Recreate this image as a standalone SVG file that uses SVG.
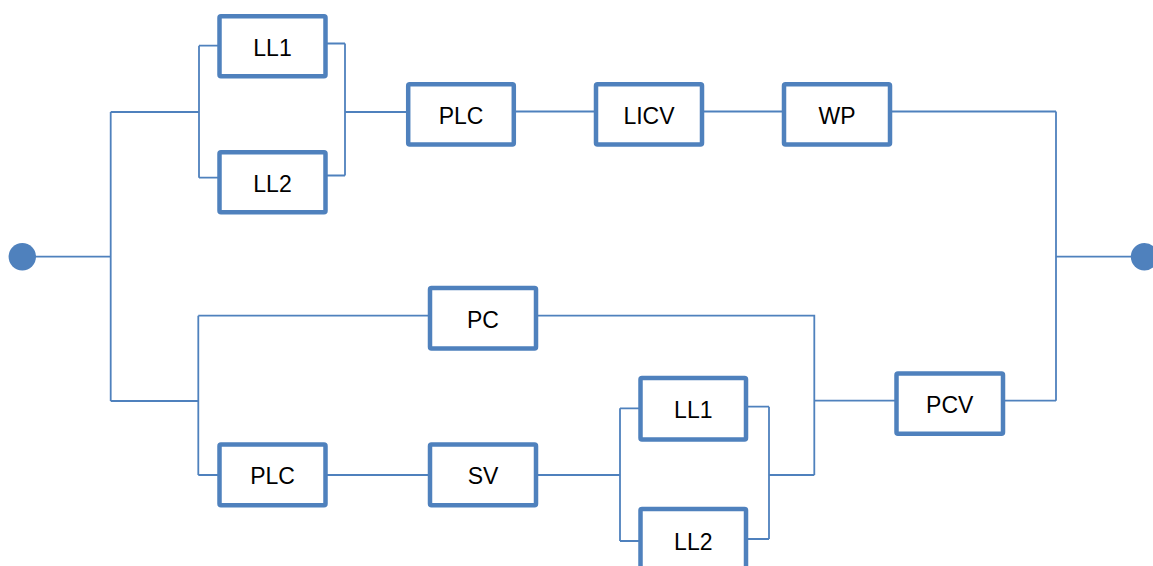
<svg xmlns="http://www.w3.org/2000/svg" width="1153" height="566" viewBox="0 0 1153 566">
<style>
.box{fill:#fff;stroke:#4F81BD;stroke-width:4.5;}
.lbl{font-family:"Liberation Sans",Arial,sans-serif;font-size:23px;fill:#000;text-anchor:middle;}
.wire{fill:none;stroke:#4F81BD;stroke-width:1.8;}
.term{fill:#4F81BD;}
</style>
<rect width="1153" height="566" fill="#fff"/>
<g id="connectors">
<path class="wire" d="M22.3 256.7H110.7M110.7 112V401M110.7 112H199M199 45.7V177.7M199 45.7H219.5M199 177.7H219.5"/>
<path class="wire" d="M325.5 43.5H345M325.5 175.5H345M345 43.5V175.5M345 112H408"/>
<path class="wire" d="M514 111.5H596M702 111.5H784M890 111.5H1056M1056 111.5V400.7M1056 256.7H1144"/>
<path class="wire" d="M110.7 401H198.3M198.3 315.7V475M198.3 315.7H430M198.3 475H219.5M325.5 475H430M536 475H620"/>
<path class="wire" d="M620 408.3V541M620 408.3H640.5M620 541H640.5M746 406.7H769M746 539H769M769 406.7V539M769 475H814.3"/>
<path class="wire" d="M536 315.7H814.3V475M814.3 400.7H896.5M1003 400.7H1056"/>
</g>
<g id="start"><circle class="term" cx="22.3" cy="256.7" r="13.7"/></g>
<g id="end"><circle class="term" cx="1144.5" cy="256.7" r="13.7"/></g>
<g id="ll1-top"><rect class="box" x="219.5" y="16.3" width="106" height="60" rx="1.5"/><text class="lbl" x="272.5" y="55.5">LL1</text></g>
<g id="ll2-top"><rect class="box" x="219.5" y="152.3" width="106" height="60" rx="1.5"/><text class="lbl" x="272.5" y="191.5">LL2</text></g>
<g id="plc-top"><rect class="box" x="408.2" y="84.2" width="105.6" height="60.3" rx="1.5"/><text class="lbl" x="461" y="123.5">PLC</text></g>
<g id="licv"><rect class="box" x="596" y="84.2" width="106" height="60.3" rx="1.5"/><text class="lbl" x="649" y="123.5">LICV</text></g>
<g id="wp"><rect class="box" x="784" y="84.2" width="106" height="60.3" rx="1.5"/><text class="lbl" x="837" y="123.5">WP</text></g>
<g id="pc"><rect class="box" x="430" y="288" width="106" height="60.5" rx="1.5"/><text class="lbl" x="483" y="327.5">PC</text></g>
<g id="pcv"><rect class="box" x="896.5" y="373.5" width="106.5" height="60.3" rx="1.5"/><text class="lbl" x="949.7" y="413">PCV</text></g>
<g id="plc-bottom"><rect class="box" x="219.5" y="444.5" width="106" height="60.8" rx="1.5"/><text class="lbl" x="272.5" y="484">PLC</text></g>
<g id="sv"><rect class="box" x="430" y="444.5" width="106" height="60.8" rx="1.5"/><text class="lbl" x="483" y="484">SV</text></g>
<g id="ll1-bottom"><rect class="box" x="640.5" y="378" width="105.5" height="61.5" rx="1.5"/><text class="lbl" x="693.3" y="418">LL1</text></g>
<g id="ll2-bottom"><rect class="box" x="640.5" y="509" width="105.5" height="61" rx="1.5"/><text class="lbl" x="693.3" y="549.5">LL2</text></g>
</svg>
